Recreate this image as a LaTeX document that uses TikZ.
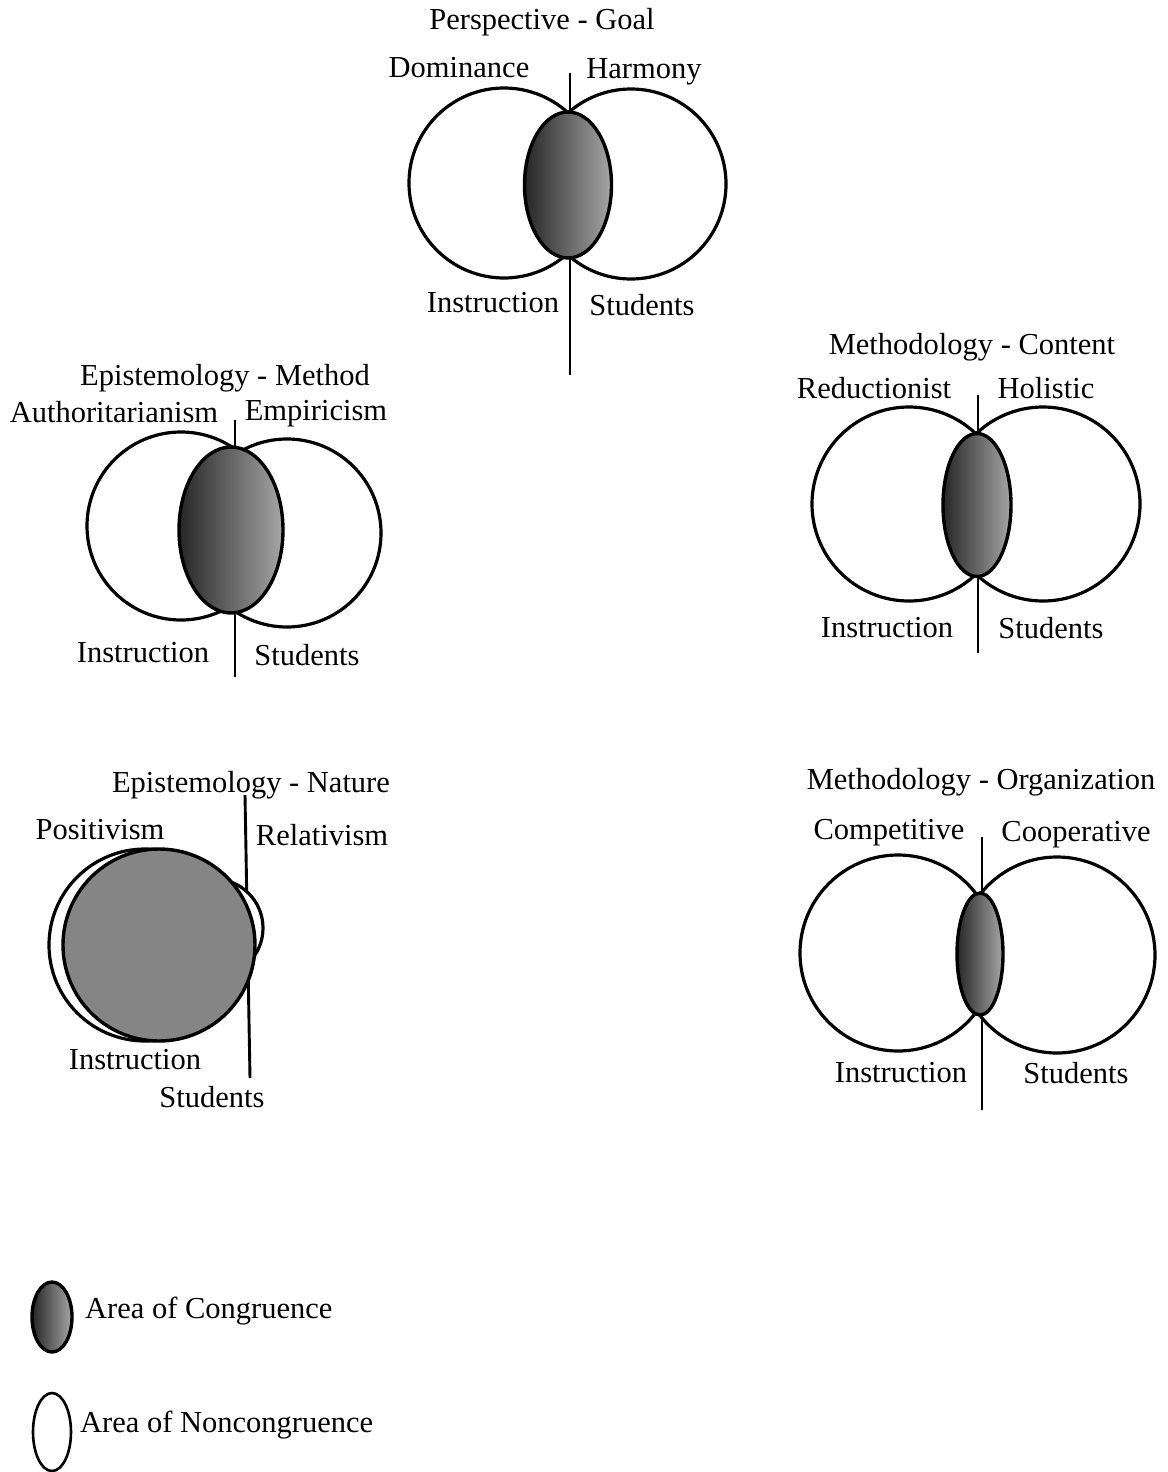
\documentclass[tikz,border=0pt]{standalone}
\usepackage{fontspec}
\setmainfont{Liberation Serif}
\usetikzlibrary{shapes.geometric,positioning}

\begin{document}
\begin{tikzpicture}[x=1pt,y=-1pt,font=\fontsize{30.5}{34}\selectfont,
 ring/.style={circle,draw=black,line width=3.2pt,fill=white,minimum size=#1,inner sep=0pt},
 lens/.style 2 args={ellipse,draw=black,line width=3.4pt,left color=black!85,right color=black!35,minimum width=#1,minimum height=#2,inner sep=0pt},
 blob/.style={circle,draw=black,line width=3.4pt,fill=black!48,minimum size=#1,inner sep=0pt},
 divider/.style={line width=2.9pt},
 lbl/.style={inner sep=0pt}]
\useasboundingbox (0,0) rectangle (1167,1472);

\coordinate (pgtop) at (570,73);
\coordinate (pgbot) at (570,375);
\draw[divider] (pgtop) -- (pgbot);
\node[ring=190pt] (pgleft) at (504,183) {};
\node[ring=190pt] (pgright) at (631,184) {};
\node[lens={87pt}{146pt}] (pgcore) at (568,185) {};
\node[lbl] (pgtitle) at (542,22) {Perspective - Goal};
\node[lbl] (pga) at (459,68) {Dominance};
\node[lbl] (pgb) at (644,72) {Harmony};
\node[lbl] (pgi) at (493,303) {Instruction};
\node[lbl] (pgs) at (642,305) {Students};

\coordinate (emtop) at (235,420);
\coordinate (embot) at (235,677);
\draw[divider] (emtop) -- (embot);
\node[ring=188pt] (emleft) at (181,526) {};
\node[ring=188pt] (emright) at (287,533) {};
\node[lens={104pt}{166pt}] (emcore) at (231,530) {};
\node[lbl] (emtitle) at (225,378) {Epistemology - Method};
\node[lbl] (ema) at (114,412) {Authoritarianism};
\node[lbl] (emb) at (316,414) {Empiricism};
\node[lbl] (emi) at (143,653) {Instruction};
\node[lbl] (ems) at (307,655) {Students};

\coordinate (mctop) at (978,395);
\coordinate (mcbot) at (978,653);
\draw[divider] (mctop) -- (mcbot);
\node[ring=194pt] (mcleft) at (909,504) {};
\node[ring=194pt] (mcright) at (1043,504) {};
\node[lens={68pt}{143pt}] (mccore) at (977,505) {};
\node[lbl] (mctitle) at (972,347) {Methodology - Content};
\node[lbl] (mca) at (874,388) {Reductionist};
\node[lbl] (mcb) at (1046,388) {Holistic};
\node[lbl] (mci) at (887,628) {Instruction};
\node[lbl] (mcs) at (1051,628) {Students};

\coordinate (entop) at (245,795);
\coordinate (enbot) at (250,1078);
\draw[divider] (entop) -- (enbot);
\node[ring=192pt] (enleft) at (145,945) {};
\node[ring=98pt] (enright) at (214,928) {};
\node[blob=192pt] (encore) at (159,945) {};
\node[lbl] (entitle) at (251,785) {Epistemology - Nature};
\node[lbl] (ena) at (100,830) {Positivism};
\node[lbl] (enb) at (322,835) {Relativism};
\node[lbl] (eni) at (135,1060) {Instruction};
\node[lbl] (ens) at (212,1097) {Students};

\coordinate (motop) at (982,837);
\coordinate (mobot) at (982,1110);
\draw[divider] (motop) -- (mobot);
\node[ring=196pt] (moleft) at (898,953) {};
\node[ring=196pt] (moright) at (1057,955) {};
\node[lens={46pt}{122pt}] (mocore) at (980,954) {};
\node[lbl] (motitle) at (981,782) {Methodology - Organization};
\node[lbl] (moa) at (889,833) {Competitive};
\node[lbl] (mob) at (1076,835) {Cooperative};
\node[lbl] (moi) at (901,1073) {Instruction};
\node[lbl] (mos) at (1076,1073) {Students};

\node[lens={40pt}{70pt}] (keyin) at (52,1317) {};
\node[ellipse,draw=black,line width=2.6pt,minimum width=38pt,minimum height=78pt,inner sep=0pt] (keyout) at (52,1432) {};
\node[lbl,anchor=west] (keyintext) at (85,1311) {Area of Congruence};
\node[lbl,anchor=west] (keyouttext) at (80,1425) {Area of Noncongruence};
\end{tikzpicture}
\end{document}
